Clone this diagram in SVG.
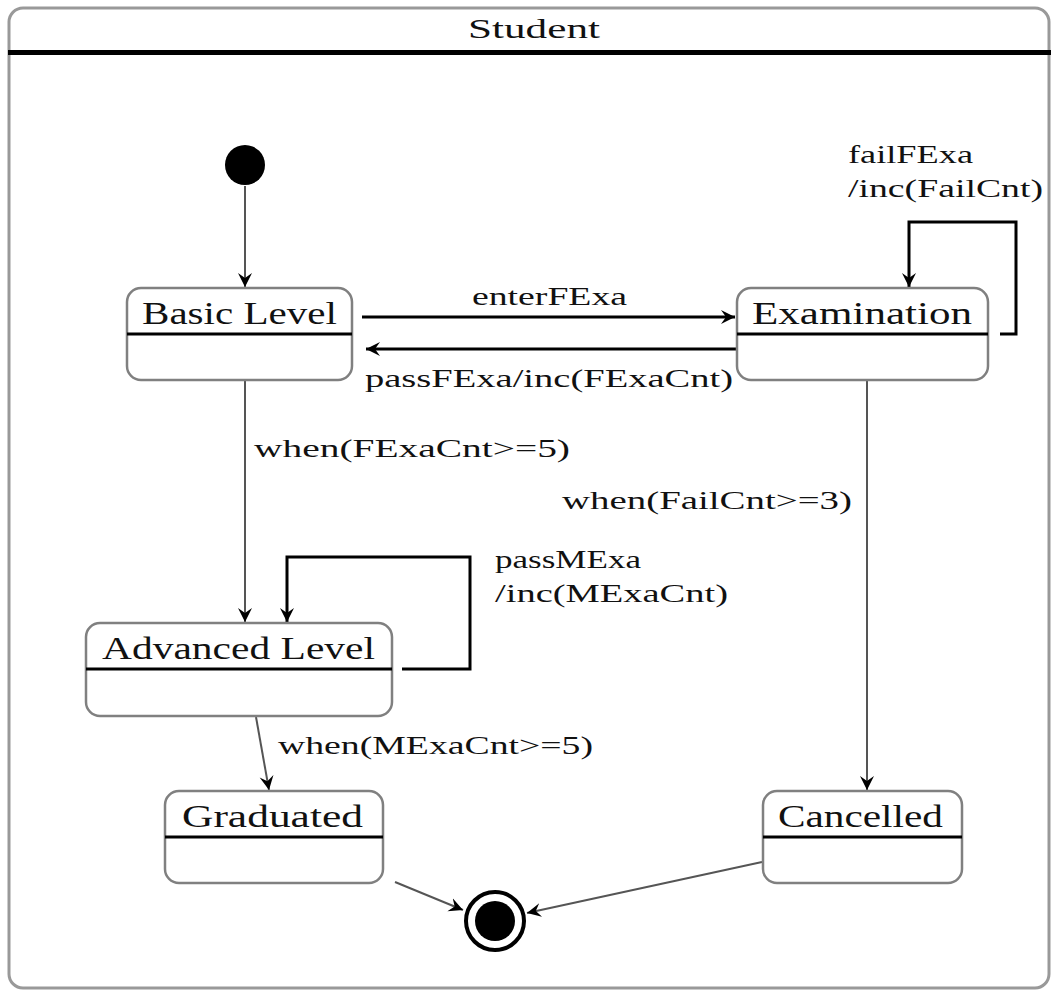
<svg xmlns="http://www.w3.org/2000/svg" width="1059" height="992" viewBox="0 0 1059 992">
<style>
text{font-family:"Liberation Serif","DejaVu Serif",serif;fill:#111}
.title{font-size:28px}
.name{font-size:31px}
.lbl{font-size:25px}
.box{fill:#fff;stroke:#808080;stroke-width:2.5}
.div{stroke:#000;stroke-width:3}
.thin{fill:none;stroke:#555;stroke-width:2}
.thick{fill:none;stroke:#000;stroke-width:3}
</style>
<defs>
<marker id="arr" markerUnits="userSpaceOnUse" markerWidth="16" markerHeight="16" refX="14" refY="8" orient="auto">
<path d="M0,1 L14,8 L0,15 L5,8 Z" fill="#000"/>
</marker>
</defs>
<g id="frame">
<rect x="9" y="8" width="1040" height="980" rx="14" fill="#fff" stroke="#999" stroke-width="3"/>
<line x1="8" y1="52.5" x2="1051" y2="52.5" stroke="#000" stroke-width="5"/>
<text class="title" x="468" y="38" textLength="132" lengthAdjust="spacingAndGlyphs">Student</text>
</g>
<g id="connectors">
<line class="thin" x1="245" y1="186" x2="245" y2="287" marker-end="url(#arr)"/>
<line class="thick" x1="362" y1="317" x2="735" y2="317" marker-end="url(#arr)"/>
<line class="thick" x1="736" y1="349" x2="366" y2="349" marker-end="url(#arr)"/>
<path class="thick" d="M1000,334 H1016 V222 H909 V287" marker-end="url(#arr)"/>
<line class="thin" x1="245" y1="381" x2="245" y2="622" marker-end="url(#arr)"/>
<path class="thick" d="M402,669 H470 V557 H287 V622" marker-end="url(#arr)"/>
<line class="thin" x1="867" y1="381" x2="867" y2="790" stroke="#777" stroke-width="2.5" marker-end="url(#arr)"/>
<line class="thin" x1="256" y1="717" x2="269" y2="790" marker-end="url(#arr)"/>
<line class="thin" x1="395" y1="882" x2="463" y2="910" marker-end="url(#arr)"/>
<line class="thin" x1="762" y1="862" x2="527" y2="913" marker-end="url(#arr)"/>
<text class="lbl" x="472" y="305" textLength="155" lengthAdjust="spacingAndGlyphs">enterFExa</text>
<text class="lbl" x="365" y="387" textLength="368" lengthAdjust="spacingAndGlyphs">passFExa/inc(FExaCnt)</text>
<text class="lbl" x="848" y="163" textLength="125" lengthAdjust="spacingAndGlyphs">failFExa</text>
<text class="lbl" x="848" y="197" textLength="195" lengthAdjust="spacingAndGlyphs">/inc(FailCnt)</text>
<text class="lbl" x="254" y="457" textLength="316" lengthAdjust="spacingAndGlyphs">when(FExaCnt&gt;=5)</text>
<text class="lbl" x="562" y="509" textLength="290" lengthAdjust="spacingAndGlyphs">when(FailCnt&gt;=3)</text>
<text class="lbl" x="495" y="568" textLength="146" lengthAdjust="spacingAndGlyphs">passMExa</text>
<text class="lbl" x="495" y="602" textLength="233" lengthAdjust="spacingAndGlyphs">/inc(MExaCnt)</text>
<text class="lbl" x="278" y="754" textLength="315" lengthAdjust="spacingAndGlyphs">when(MExaCnt&gt;=5)</text>
</g>
<g id="initial">
<circle cx="245" cy="165" r="20" fill="#000"/>
</g>
<g id="basic-level">
<rect class="box" x="127" y="288" width="225" height="92" rx="14"/>
<line class="div" x1="127" y1="334" x2="352" y2="334"/>
<text class="name" x="142" y="324" textLength="195" lengthAdjust="spacingAndGlyphs">Basic Level</text>
</g>
<g id="examination">
<rect class="box" x="737" y="288" width="251" height="92" rx="14"/>
<line class="div" x1="737" y1="334" x2="988" y2="334"/>
<text class="name" x="752" y="324" textLength="220" lengthAdjust="spacingAndGlyphs">Examination</text>
</g>
<g id="advanced-level">
<rect class="box" x="86" y="623" width="306" height="93" rx="14"/>
<line class="div" x1="86" y1="669" x2="392" y2="669"/>
<text class="name" x="102" y="659" textLength="273" lengthAdjust="spacingAndGlyphs">Advanced Level</text>
</g>
<g id="graduated">
<rect class="box" x="165" y="791" width="218" height="92" rx="14"/>
<line class="div" x1="165" y1="837" x2="383" y2="837"/>
<text class="name" x="182" y="827" textLength="181" lengthAdjust="spacingAndGlyphs">Graduated</text>
</g>
<g id="cancelled">
<rect class="box" x="763" y="791" width="199" height="92" rx="14"/>
<line class="div" x1="763" y1="837" x2="962" y2="837"/>
<text class="name" x="778" y="827" textLength="165" lengthAdjust="spacingAndGlyphs">Cancelled</text>
</g>
<g id="final">
<circle cx="495" cy="921" r="29" fill="#fff" stroke="#000" stroke-width="4"/>
<circle cx="495" cy="921" r="20" fill="#000"/>
</g>
</svg>
